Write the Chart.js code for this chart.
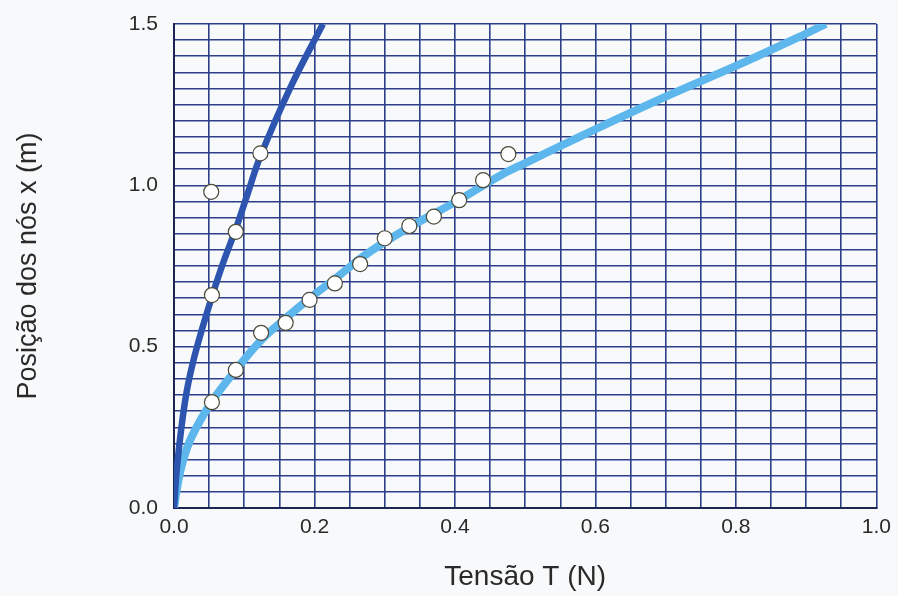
<!DOCTYPE html>
<html lang="pt">

<head>
    <meta charset="UTF-8">
    <title>Posição dos nós x Tensão</title>
    <style>
        html,
        body {
            margin: 0;
            padding: 0;
            background: #f8f9fa;
        }

        #wrap {
            width: 898px;
            height: 596px;
        }
    </style>
    <script src="https://cdn.jsdelivr.net/npm/chart.js"></script>
</head>

<body>
    <div id="wrap"><canvas id="chart" width="898" height="596"></canvas></div>

    <script>
        // curva escura (ajuste 1)
        const darkCurveT = [0, 0.004, 0.010, 0.018, 0.028, 0.040, 0.054, 0.070, 0.088, 0.105, 0.123, 0.165, 0.212];
        const darkCurveX = [0, 0.12, 0.24, 0.36, 0.46, 0.555, 0.655, 0.76, 0.865, 0.975, 1.09, 1.30, 1.50];

        // curva clara (ajuste 2)
        const lightCurveT = [0, 0.005, 0.012, 0.025, 0.054, 0.089, 0.124, 0.160, 0.193, 0.229, 0.276, 0.335, 0.406, 0.464, 0.506, 0.553, 0.606, 0.700, 0.800, 0.890, 0.928];
        const lightCurveX = [0, 0.07, 0.14, 0.22, 0.33, 0.43, 0.52, 0.59, 0.65, 0.71, 0.79, 0.87, 0.955, 1.03, 1.075, 1.125, 1.18, 1.275, 1.37, 1.46, 1.50];

        // pontos medidos
        const darkPointsT = [0.053, 0.054, 0.088, 0.123];
        const darkPointsX = [0.980, 0.660, 0.856, 1.099];
        const lightPointsT = [0.054, 0.088, 0.124, 0.159, 0.193, 0.229, 0.265, 0.300, 0.335, 0.370, 0.406, 0.440, 0.476];
        const lightPointsX = [0.328, 0.428, 0.543, 0.574, 0.645, 0.696, 0.756, 0.836, 0.874, 0.903, 0.954, 1.016, 1.097];

        // eixos
        const xTickLabels = [0, 0.2, 0.4, 0.6, 0.8, 1.0];
        const yTickLabels = [0, 0.5, 1.0, 1.5];

        function toPoints(ts, xs) {
            return ts.map((t, i) => ({ x: t, y: xs[i] }));
        }

        const gridColor = '#2c3f88';
        const textColor = '#2a2a2a';
        const fontFamily = 'Liberation Sans, Arial, sans-serif';

        const ctx = document.getElementById('chart').getContext('2d');

        new Chart(ctx, {
            type: 'scatter',
            data: {
                datasets: [
                    {
                        data: toPoints(darkPointsT.concat(lightPointsT), darkPointsX.concat(lightPointsX)),
                        pointRadius: 7.5,
                        pointBackgroundColor: '#ffffff',
                        pointBorderColor: '#4a4a3a',
                        pointBorderWidth: 1.2,
                        showLine: false
                    },
                    {
                        data: toPoints(darkCurveT, darkCurveX),
                        showLine: true,
                        borderColor: '#2d55b0',
                        borderWidth: 6.5,
                        pointRadius: 0,
                        tension: 0.4
                    },
                    {
                        data: toPoints(lightCurveT, lightCurveX),
                        showLine: true,
                        borderColor: '#5db6ec',
                        borderWidth: 8,
                        pointRadius: 0,
                        tension: 0.4
                    }
                ]
            },
            options: {
                responsive: false,
                animation: false,
                layout: {
                    padding: { left: 4, right: 20, top: 24, bottom: 0 }
                },
                plugins: {
                    legend: { display: false },
                    tooltip: { enabled: false }
                },
                scales: {
                    x: {
                        type: 'linear',
                        min: 0,
                        max: 1.0,
                        afterFit: (scale) => { scale.height = 88; },
                        grid: {
                            color: gridColor,
                            lineWidth: 1.6,
                            drawTicks: false
                        },
                        border: { color: '#1c2450', width: 2 },
                        ticks: {
                            stepSize: 0.05,
                            autoSkip: false,
                            maxRotation: 0,
                            padding: 7,
                            color: textColor,
                            font: { family: fontFamily, size: 21 },
                            callback: (v) => {
                                const hit = xTickLabels.find(l => Math.abs(l - v) < 1e-6);
                                return hit === undefined ? '' : hit.toFixed(1);
                            }
                        },
                        title: {
                            display: true,
                            text: 'Tensão T (N)',
                            color: textColor,
                            font: { family: fontFamily, size: 28 },
                            padding: { top: 0, bottom: 2 }
                        }
                    },
                    y: {
                        type: 'linear',
                        min: 0,
                        max: 1.5,
                        afterFit: (scale) => {
                            scale.width = 170;
                            scale.paddingTop = 0;
                            scale.paddingBottom = 0;
                        },
                        grid: {
                            color: gridColor,
                            lineWidth: 1.6,
                            drawTicks: false
                        },
                        border: { color: '#1c2450', width: 2 },
                        ticks: {
                            stepSize: 0.05,
                            autoSkip: false,
                            padding: 16,
                            color: textColor,
                            font: { family: fontFamily, size: 21 },
                            callback: (v) => {
                                const hit = yTickLabels.find(l => Math.abs(l - v) < 1e-6);
                                return hit === undefined ? '' : hit.toFixed(1);
                            }
                        },
                        title: {
                            display: true,
                            text: 'Posição dos nós x (m)',
                            color: textColor,
                            font: { family: fontFamily, size: 27 },
                            padding: { top: 8, bottom: 0 }
                        }
                    }
                }
            }
        });
    </script>
</body>

</html>
